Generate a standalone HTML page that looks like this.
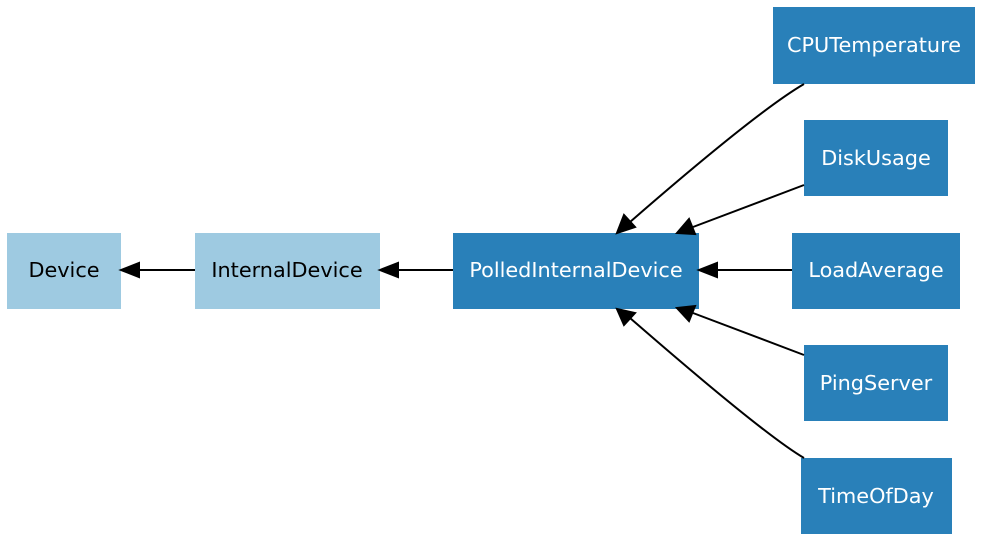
<!DOCTYPE html>
<html><head><meta charset="utf-8"><style>
html,body{margin:0;padding:0;background:#fff;}
svg{display:block}
</style></head><body>
<svg width="987" height="542" viewBox="0 0 987 542" xmlns="http://www.w3.org/2000/svg">
<rect width="987" height="542" fill="#fff"/>
<g fill="#9ecae1">
<rect x="7" y="233" width="114" height="76"/>
<rect x="195" y="233" width="185" height="76"/>
</g>
<g fill="#2980b9">
<rect x="453" y="233" width="246" height="76"/>
<rect x="773" y="7" width="202" height="77"/>
<rect x="804" y="120" width="144" height="76"/>
<rect x="792" y="233" width="168" height="76"/>
<rect x="804" y="345" width="144" height="76"/>
<rect x="801" y="458" width="151" height="76"/>
</g>
<g text-anchor="middle" font-family="DejaVu Sans, Liberation Sans, sans-serif" font-size="20.8">
<text x="64" y="277" fill="#000">Device</text>
<text x="287" y="277" fill="#000">InternalDevice</text>
<text x="576" y="277" fill="#fff">PolledInternalDevice</text>
<text x="874" y="52" fill="#fff">CPUTemperature</text>
<text x="876" y="165" fill="#fff">DiskUsage</text>
<text x="876" y="277" fill="#fff">LoadAverage</text>
<text x="876" y="390" fill="#fff">PingServer</text>
<text x="876" y="503" fill="#fff">TimeOfDay</text>
</g>
<g stroke="#000" stroke-width="2" fill="none">
<line x1="195" y1="270" x2="138" y2="270"/>
<line x1="453" y1="270" x2="396" y2="270"/>
<line x1="792" y1="270" x2="715" y2="270"/>
<path d="M804,84 C780,98 730,135 630,222"/>
<line x1="804" y1="185" x2="693" y2="227"/>
<line x1="804" y1="355" x2="693" y2="313"/>
<path d="M804,458 C780,444 730,405 630,318"/>
</g>
<g fill="#000" stroke="#000" stroke-width="2">
<polygon points="121,270 139,263 139,277"/>
<polygon points="380,270 398,263 398,277"/>
<polygon points="699,270 717,263 717,277"/>
<polygon points="617,233 624,215 635,227"/>
<polygon points="677,233 689,219 695,234"/>
<polygon points="677,308 695,306 689,321"/>
<polygon points="617,309 635,313 624,325"/>
</g>
</svg>
</body></html>
